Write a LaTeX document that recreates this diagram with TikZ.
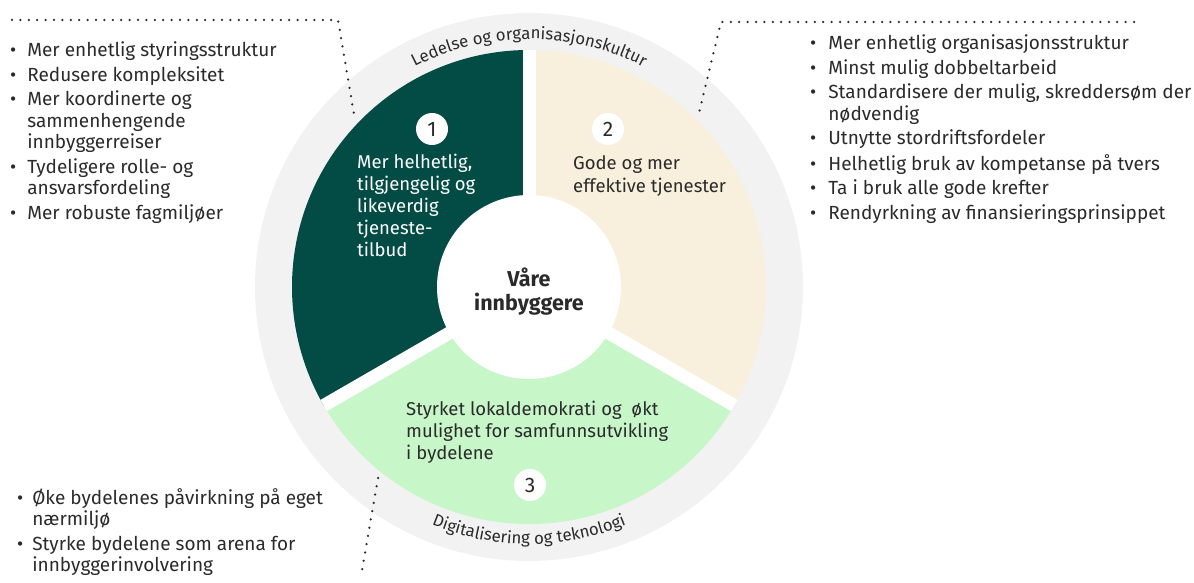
\documentclass[tikz,border=0pt]{standalone}
\usepackage{fontspec}
\setmainfont{Fira Sans}
\usetikzlibrary{decorations.text}

\definecolor{osloDark}{HTML}{034B45}
\definecolor{osloBeige}{HTML}{F8F0DD}
\definecolor{osloLight}{HTML}{C7F6C9}
\definecolor{ringGray}{HTML}{F2F2F2}
\definecolor{inkText}{HTML}{2A2A2A}

\newcommand\ringfont{\fontsize{16.8}{16.8}\selectfont}
\newcommand\bodyfont{\fontsize{19}{21.5}\selectfont}
\newcommand\sectorfont{\fontsize{18.5}{22}\selectfont}

\tikzset{
  listtext/.style={inner sep=0pt, anchor=base west, text=inkText, font=\bodyfont},
  sectortext/.style={inner sep=0pt, anchor=base west, text=inkText, font=\sectorfont},
  numdot/.style={circle, fill=white, minimum size=32pt, inner sep=0pt,
    text=inkText, font=\fontsize{21}{21}\selectfont},
  dotline/.style={inkText, line width=2.5pt, line cap=round, dash pattern=on 0pt off 8.4pt},
  gapline/.style={white, line width=13pt},
  ringlabel/.style={decorate, decoration={text along path, text align=center,
    text color=inkText}},
}

\begin{document}
\begin{tikzpicture}[x=1pt,y=1pt]
\useasboundingbox (0,0) rectangle (1194,582);

\coordinate (c) at (529,295);

% ring and sectors
\fill[ringGray] (c) circle[radius=274];
\fill[osloDark] (c) -- ([shift={(90:237)}]c) arc[start angle=90, end angle=210, radius=237] -- cycle;
\fill[osloBeige] (c) -- ([shift={(-30:237)}]c) arc[start angle=-30, end angle=90, radius=237] -- cycle;
\fill[osloLight] (c) -- ([shift={(210:237)}]c) arc[start angle=210, end angle=330, radius=237] -- cycle;
\foreach \a in {90,210,330}
  \draw[gapline] (c) -- ([shift={(\a:237)}]c);
\fill[white] (c) circle[radius=92];

\path[ringlabel, decoration={text={|\ringfont|Ledelse og organisasjonskultur}}]
  ([shift={(150:248)}]c) arc[start angle=150, end angle=30, radius=248];
\path[ringlabel, decoration={text={|\ringfont|Digitalisering og teknologi}}]
  ([shift={(210:257)}]c) arc[start angle=210, end angle=330, radius=257];

% centre
\node[inner sep=0pt, anchor=base, text=inkText, font=\fontsize{21.5}{22}\selectfont\bfseries] (centre) at (529,296)
  {\begin{tabular}[t]{@{}c@{}}Våre\\ innbyggere\end{tabular}};

% sector texts
\node[numdot] (one) at (432,453) {1};
\node[sectortext, text=white] (helhet) at (357,413)
  {\begin{tabular}[t]{@{}l@{}}Mer helhetlig,\\ tilgjengelig og\\ likeverdig\\ tjeneste-\\ tilbud\end{tabular}};
\node[numdot] (two) at (608,453) {2};
\node[sectortext] (tjenester) at (573,412)
  {\begin{tabular}[t]{@{}l@{}}Gode og mer\\[1pt] effektive tjenester\end{tabular}};
\node[numdot] (three) at (530,97) {3};
\node[sectortext] (demokrati) at (406,167)
  {\begin{tabular}[t]{@{}l@{}}Styrket lokaldemokrati og \ økt\\ mulighet for samfunnsutvikling\\ i bydelene\end{tabular}};

% lists
\node[listtext] (leftlist) at (10,525)
  {\begin{tabular}[t]{@{}l@{\hspace{11pt}}l@{}}
  \textbullet & Mer enhetlig styringsstruktur\\[3pt]
  \textbullet & Redusere kompleksitet\\[3pt]
  \textbullet & Mer koordinerte og\\
              & sammenhengende\\
              & innbyggerreiser\\[3pt]
  \textbullet & Tydeligere rolle- og\\
              & ansvarsfordeling\\[3pt]
  \textbullet & Mer robuste fagmiljøer
  \end{tabular}};
\node[listtext] (rightlist) at (810,532)
  {\begin{tabular}[t]{@{}l@{\hspace{12pt}}l@{}}
  \textbullet & Mer enhetlig organisasjonsstruktur\\[3pt]
  \textbullet & Minst mulig dobbeltarbeid\\[3pt]
  \textbullet & Standardisere der mulig, skreddersøm der\\
              & nødvendig\\[3pt]
  \textbullet & Utnytte stordriftsfordeler\\[3pt]
  \textbullet & Helhetlig bruk av kompetanse på tvers\\[3pt]
  \textbullet & Ta i bruk alle gode krefter\\[3pt]
  \textbullet & Rendyrkning av finansieringsprinsippet
  \end{tabular}};
\node[listtext] (bottomlist) at (17,78)
  {\begin{tabular}[t]{@{}l@{\hspace{9pt}}l@{}}
  \textbullet & Øke bydelenes påvirkning på eget\\
              & nærmiljø\\[3pt]
  \textbullet & Styrke bydelene som arena for\\
              & innbyggerinvolvering
  \end{tabular}};

% dotted leaders
\coordinate (la) at (12,562);
\coordinate (lb) at (338,562);
\coordinate (lc) at (355,462);
\coordinate (ra) at (1134,560);
\coordinate (rb) at (721,560);
\coordinate (rc) at (698,465);
\coordinate (ba) at (378,104);
\coordinate (bb) at (361,6);
\draw[dotline] (la) -- (lb) -- (lc);
\draw[dotline] (ra) -- (rb) -- (rc);
\draw[dotline] (ba) -- (bb);
\end{tikzpicture}
\end{document}
